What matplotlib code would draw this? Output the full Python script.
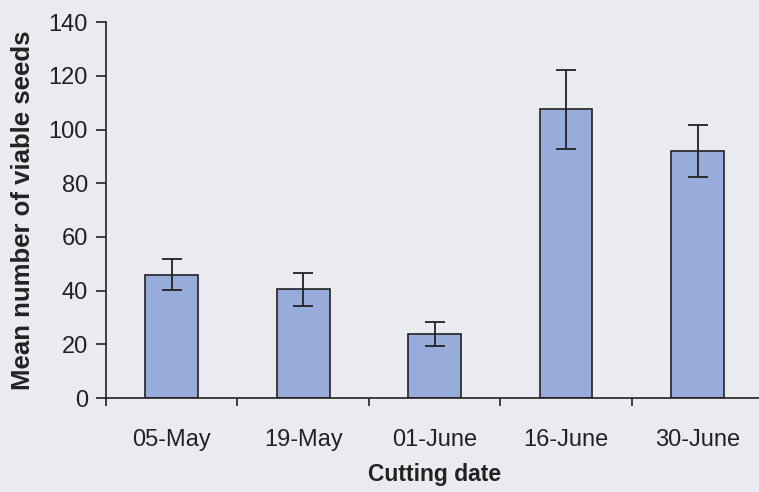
import matplotlib.pyplot as plt
import numpy as np

# cutting dates and mean viable seeds (with error bars)
dates = ["05-May", "19-May", "01-June", "16-June", "30-June"]
seeds = [46, 40.5, 24, 107.5, 92]
errors = [5.8, 6.2, 4.5, 14.6, 9.6]

plt.rcParams['font.family'] = ['Liberation Sans', 'DejaVu Sans']

bg = "#e9ebf0"
fig = plt.figure(figsize=(7.59, 4.92), dpi=100, facecolor=bg)
ax = fig.add_axes([0.1397, 0.191, 0.866, 0.764])
ax.set_facecolor(bg)

x = np.arange(len(dates))
ax.bar(x, seeds, width=0.4, color="#98acdc", edgecolor="#222222", linewidth=1.2,
       yerr=errors, capsize=7, error_kw=dict(elinewidth=1.3, capthick=1.3, ecolor="#222222"))

ax.set_xlim(-0.5, len(dates) - 0.5)
ax.set_ylim(0, 140)
ax.set_yticks(range(0, 141, 20))
ax.set_xticks(x)
ax.set_xticklabels(dates)
ax.set_xticks(np.arange(-0.5, len(dates), 1), minor=True)
ax.tick_params(axis="x", which="major", length=0, pad=22, labelsize=17, colors="#222222")
ax.tick_params(axis="x", which="minor", length=6, width=1.2, color="#222222")
ax.tick_params(axis="y", length=7, width=1.2, labelsize=17, colors="#222222", pad=6)

for s in ["top", "right"]:
    ax.spines[s].set_visible(False)
for s in ["left", "bottom"]:
    ax.spines[s].set_linewidth(1.2)
    ax.spines[s].set_color("#222222")

ax.set_xlabel("Cutting date", fontsize=16.5, fontweight="bold", color="#222222", labelpad=9)
ax.set_ylabel("Mean number of viable seeds", fontsize=18.5, fontweight="bold", color="#222222", labelpad=10)

fig.savefig("out.png", dpi=100, facecolor=bg)
